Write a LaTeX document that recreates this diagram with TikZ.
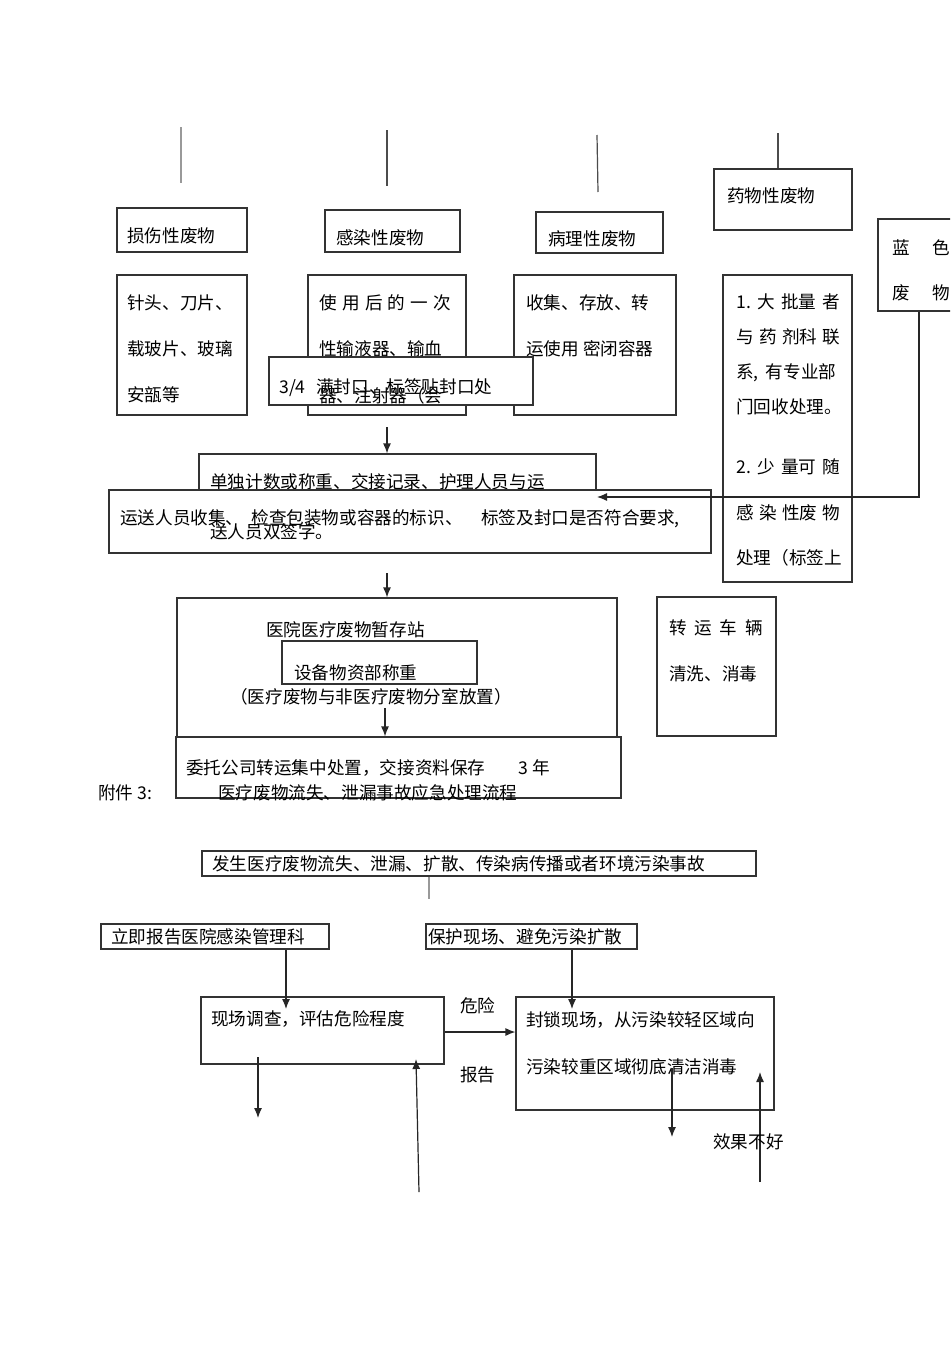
\documentclass[tikz,border=0pt]{standalone}
\usepackage{fontspec}
\setmainfont{Noto Sans CJK SC}
\usetikzlibrary{fit,arrows.meta}
\newcommand\spreadto[2]{\makebox[#1][s]{#2}}
\begin{document}
\begin{tikzpicture}[x=0.75pt,y=-0.75pt,
  box/.style={draw=black!80,line width=0.9pt,inner sep=0pt},
  wbox/.style={box,fill=white},
  txt/.style={anchor=west,inner sep=0pt,text height=11.6pt,text depth=1.6pt,font=\fontsize{13.2}{15}\selectfont},
  arr/.style={draw=black!85,line width=0.9pt,-{Latex[length=7.5pt,width=6pt]}},
  ln/.style={draw=black!70,line width=0.9pt},
  lnl/.style={draw=black!40,line width=0.9pt}]
\useasboundingbox (0,0) rectangle (950,1345);
\clip (0,0) rectangle (950,1345);
\fill[white] (0,0) rectangle (950,1345);

% ---------- top vertical lines ----------
\coordinate (t1a) at (181,127); \coordinate (t1b) at (181,183);
\coordinate (t2a) at (387,130); \coordinate (t2b) at (387,186);
\coordinate (t3a) at (597,135); \coordinate (t3b) at (598,192);
\coordinate (t4a) at (778,133);
\draw[lnl] (t1a) -- (t1b);
\draw[ln] (t2a) -- (t2b);
\draw[ln] (t3a) -- (t3b);

% ---------- category boxes ----------
\node[box,fit={(117,208) (247,252)}] (c1) {};
\node[box,fit={(325,210) (460,252)}] (c2) {};
\node[box,fit={(536,212) (663,253)}] (c3) {};
\node[box,fit={(714,169) (852,230)}] (c4) {};
\node[box,fit={(878,219) (960,311)}] (lan) {};
\draw[ln] (t4a) -- (c4.north -| t4a);

\node[txt] (c1t) at (127,236) {损伤性废物};
\node[txt] (c2t) at (336,238) {感染性废物};
\node[txt] (c3t) at (548,239) {病理性废物};
\node[txt] (c4t) at (727,196) {药物性废物};
\node[txt] (lant1) at (892,248) {\spreadto{43.5pt}{蓝\hfill 色}};
\node[txt] (lant2) at (892,293) {\spreadto{43.5pt}{废\hfill 物}};

% ---------- description boxes ----------
\node[box,fit={(117,275) (247,415)}] (d1) {};
\node[box,fit={(308,275) (466,415)}] (d2) {};
\node[box,fit={(514,275) (676,415)}] (d3) {};
\node[box,fit={(723,275) (852,582)}] (d4) {};

\node[txt] (d1a) at (127,303) {针头、刀片、};
\node[txt] (d1b) at (127,349) {载玻片、玻璃};
\node[txt] (d1c) at (127,395) {安瓿等};

\node[txt] (d2a) at (319,303) {\spreadto{99pt}{使\hfill 用\hfill 后\hfill 的\hfill 一\hfill 次}};
\node[txt] (d2b) at (319,349) {性输液器、输血};

\node[txt] (d3a) at (526,303) {收集、存放、转};
\node[txt] (d3b) at (526,349) {运使用\hspace{3pt}密闭容器};

\node[txt] (d4a) at (736,302) {\spreadto{78pt}{1.\hfill 大\hfill 批量\hfill 者}};
\node[txt] (d4b) at (736,337) {\spreadto{78pt}{与\hfill 药\hfill 剂科\hfill 联}};
\node[txt] (d4c) at (736,372) {\spreadto{75pt}{系,\hfill 有专业部}};
\node[txt] (d4d) at (736,407) {门回收处理。};
\node[txt] (d4e) at (736,467) {\spreadto{78pt}{2.\hfill 少\hfill 量可\hfill 随}};
\node[txt] (d4f) at (736,513) {\spreadto{78pt}{感\hfill 染\hfill 性废\hfill 物}};
\node[txt] (d4g) at (736,558) {处理（标签上};

% ---------- 3/4 box ----------
\node[wbox,fit={(269,357) (533,405)}] (s34) {};
\node[txt] (s34t) at (279,387) {3/4\hspace{8pt}满封口、标签贴封口处};
\node[txt] (d2c) at (319,396) {器、注射器（会};

% ---------- collection ----------
\coordinate (a1s) at (387,427);
\node[box,fit={(199,454) (596,520)}] (dan) {};
\draw[arr] (a1s) -- (dan.north -| a1s);
\node[txt] (dant1) at (210,482) {单独计数或称重、交接记录、护理人员与运};
\node[wbox,fit={(109,490) (711,553)}] (ys) {};
\node[txt] (yst) at (120,518) {运送人员收集、\hspace{6pt}检查包装物或容器的标识、\hspace{14pt}标签及封口是否符合要求,};
\node[txt] (dant2) at (210,532) {送人员双签字。};

% blue waste arrow
\coordinate (lanend) at (597,497);
\draw[arr] (lan.south) |- (lanend);

% ---------- storage ----------
\coordinate (a2s) at (387,573);
\node[box,fit={(177,598) (617,760)}] (zc) {};
\draw[arr] (a2s) -- (zc.north -| a2s);
\node[txt] (zct) at (266,630) {医院医疗废物暂存站};
\node[box,fit={(282,641) (477,684)}] (sb) {};
\node[txt] (sbt) at (294,673) {设备物资部称重};
\node[txt] (zct2) at (230,697) {（医疗废物与非医疗废物分室放置）};

\node[box,fit={(657,597) (776,736)}] (zy) {};
\node[txt] (zyt1) at (669,628) {\spreadto{70pt}{转\hfill 运\hfill 车\hfill 辆}};
\node[txt] (zyt2) at (669,674) {清洗、消毒};

\coordinate (a3s) at (385,708);
\node[wbox,fit={(176,737) (621,798)}] (wt) {};
\draw[arr] (a3s) -- (wt.north -| a3s);
\node[txt] (wtt) at (186,768) {委托公司转运集中处置，交接资料保存\hspace{25pt}3 年};
\node[txt] (fj) at (98,793) {附件 3:};
\node[txt] (title) at (218,793) {医疗废物流失、泄漏事故应急处理流程};

% ---------- emergency flow ----------
\node[box,fit={(202,851) (756,876)}] (fs) {};
\node[txt] (fst) at (212,864) {发生医疗废物流失、泄漏、扩散、传染病传播或者环境污染事故};
\coordinate (f1) at (429,899);
\draw[lnl] (fs.south -| f1) -- (f1);

\node[box,fit={(101,924) (329,949)}] (lj) {};
\node[txt] (ljt) at (111,937) {立即报告医院感染管理科};
\node[box,fit={(426,924) (637,949)}] (bh) {};
\node[txt] (bht) at (428,937) {\spreadto{145.5pt}{保\hfill 护\hfill 现\hfill 场\hfill 、\hfill 避\hfill 免\hfill 污\hfill 染\hfill 扩\hfill 散}};

\node[box,fit={(201,997) (444,1064)}] (xc) {};
\node[txt] (xct) at (211,1019) {现场调查，评估危险程度};
\node[box,fit={(516,997) (774,1110)}] (fsu) {};
\node[txt] (fsut1) at (526,1020) {封锁现场，从污染较轻区域向};
\node[txt] (fsut2) at (526,1067) {污染较重区域彻底清洁消毒};

\coordinate (x1) at (286,1009);
\coordinate (x2) at (572,1009);
\draw[arr] (lj.south -| x1) -- (x1);
\draw[arr] (bh.south -| x2) -- (x2);

\coordinate (r1) at (0,1032);
\draw[arr] (xc.east |- r1) -- (fsu.west |- r1);
\node[txt] (wx) at (460,1006) {危险};
\node[txt] (bg) at (460,1075) {报告};

\coordinate (p1a) at (258,1057); \coordinate (p1b) at (258,1118);
\draw[arr] (p1a) -- (p1b);
\coordinate (p2a) at (419,1192); \coordinate (p2b) at (416,1059);
\draw[arr] (p2a) -- (p2b);
\coordinate (p3a) at (672,1068); \coordinate (p3b) at (672,1137);
\draw[arr] (p3a) -- (p3b);
\coordinate (p4a) at (760,1182); \coordinate (p4b) at (760,1072);
\draw[arr] (p4a) -- (p4b);
\node[txt] (xg) at (713,1142) {效果不好};
\end{tikzpicture}
\end{document}
